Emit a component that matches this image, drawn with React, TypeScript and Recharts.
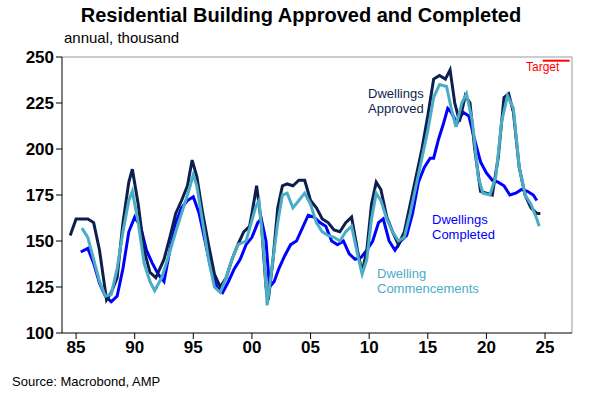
import React from 'react'
import { LineChart, Line, XAxis, YAxis, ReferenceLine } from 'recharts'

const approvedYears = [1984.5, 1985, 1986, 1986.5, 1987, 1987.6, 1988, 1988.5, 1989, 1989.5, 1989.8, 1990.3, 1990.8, 1991.3, 1991.8, 1992.5, 1993, 1993.5, 1994, 1994.5, 1994.9, 1995.3, 1995.8, 1996.3, 1996.8, 1997.3, 1997.8, 1998.3, 1998.8, 1999.3, 1999.8, 2000, 2000.4, 2000.8, 2001.2, 2001.4, 2001.8, 2002.2, 2002.6, 2003, 2003.5, 2004, 2004.5, 2005, 2005.5, 2006, 2006.5, 2007, 2007.5, 2008, 2008.5, 2009, 2009.4, 2009.8, 2010.2, 2010.6, 2011, 2011.5, 2012, 2012.5, 2013, 2013.5, 2014, 2014.5, 2015, 2015.5, 2016, 2016.5, 2016.9, 2017.3, 2017.7, 2018.2, 2018.6, 2019, 2019.5, 2020, 2020.5, 2021, 2021.5, 2021.9, 2022.3, 2022.8, 2023.3, 2023.8, 2024.3, 2024.6]
const approvedValues = [153, 162, 162, 160, 145, 118, 122, 130, 160, 182, 189, 170, 145, 133, 130, 140, 152, 165, 172, 180, 194, 185, 165, 148, 132, 125, 130, 140, 148, 155, 158, 165, 180, 160, 125, 118, 140, 168, 180, 181, 180, 183, 183, 172, 168, 162, 160, 156, 155, 160, 163, 145, 133, 145, 170, 182, 178, 163, 155, 148, 155, 170, 185, 200, 218, 238, 240, 238, 243, 225, 215, 229, 225, 200, 177, 176, 175, 195, 228, 230, 220, 190, 175, 168, 165, 165]

const commenceYears = [1985.5, 1986, 1986.5, 1987, 1987.5, 1988, 1988.5, 1989, 1989.5, 1989.8, 1990.3, 1990.8, 1991.3, 1991.7, 1992.3, 1992.8, 1993.5, 1994, 1994.5, 1995, 1995.3, 1995.8, 1996.3, 1996.8, 1997.3, 1997.8, 1998.3, 1998.8, 1999.5, 2000.3, 2000.6, 2001, 2001.3, 2001.7, 2002.2, 2002.6, 2003, 2003.5, 2004, 2004.5, 2005, 2005.5, 2006, 2006.5, 2007, 2007.5, 2008, 2008.5, 2009, 2009.4, 2009.8, 2010.2, 2010.6, 2011, 2011.5, 2012, 2012.5, 2013, 2013.5, 2014, 2014.5, 2015, 2015.5, 2016, 2016.6, 2017, 2017.4, 2017.9, 2018.3, 2018.8, 2019.3, 2019.7, 2020.3, 2020.8, 2021.3, 2021.8, 2022.3, 2022.8, 2023.3, 2023.8, 2024.3, 2024.5]
const commenceValues = [157, 152, 140, 128, 120, 121, 135, 155, 172, 177, 160, 138, 128, 123, 130, 140, 155, 165, 175, 186, 180, 160, 140, 125, 122, 130, 140, 148, 150, 168, 172, 145, 115, 135, 160, 175, 176, 168, 172, 176, 170, 160, 155, 153, 152, 150, 155, 158, 143, 132, 140, 162, 176, 172, 162, 155, 150, 152, 165, 180, 195, 210, 228, 235, 234, 222, 212, 225, 230, 215, 185, 176, 175, 185, 215, 229, 222, 190, 175, 170, 162, 158]

const completedYears = [1985.4, 1986, 1986.5, 1987, 1987.5, 1988, 1988.5, 1989, 1989.5, 1990, 1990.5, 1991, 1991.5, 1992, 1992.5, 1993, 1993.5, 1994, 1994.5, 1995, 1995.5, 1996, 1996.5, 1997, 1997.5, 1998, 1998.5, 1999, 1999.5, 2000, 2000.5, 2000.8, 2001.2, 2001.5, 2001.9, 2002.3, 2002.8, 2003.3, 2003.8, 2004.3, 2004.8, 2005.3, 2005.8, 2006.3, 2006.8, 2007.3, 2007.8, 2008.3, 2008.8, 2009.3, 2009.8, 2010.3, 2010.8, 2011.2, 2011.7, 2012.2, 2012.7, 2013.2, 2013.7, 2014.2, 2014.7, 2015.2, 2015.5, 2015.9, 2016.3, 2016.7, 2017, 2017.5, 2018, 2018.5, 2019, 2019.5, 2020, 2020.5, 2021, 2021.5, 2022, 2022.5, 2023, 2023.5, 2024, 2024.3]
const completedValues = [144, 146, 138, 127, 120, 117, 120, 135, 155, 163, 158, 145, 138, 132, 128, 145, 160, 168, 172, 174, 165, 150, 135, 125, 122, 128, 135, 140, 148, 152, 160, 162, 150, 125, 128, 135, 142, 148, 150, 157, 164, 163, 160, 158, 150, 148, 150, 143, 140, 141, 145, 150, 160, 162, 150, 145, 150, 153, 165, 182, 190, 195, 195, 205, 213, 222, 220, 214, 220, 218, 205, 193, 187, 183, 182, 180, 175, 176, 178, 177, 175, 172]

const xTicks = [1985, 1990, 1995, 2000, 2005, 2010, 2015, 2020, 2025]
const yTicks = [100, 125, 150, 175, 200, 225, 250]
const targetValue = 248

const toPoints = (xs: number[], ys: number[]) => xs.map((x, i) => ({ x, y: ys[i] }))

const font = 'Arial, "Liberation Sans", sans-serif'
const tickStyle = { fontFamily: font, fontSize: 17, fontWeight: 700, fill: '#000' }
const labelStyle = { position: 'absolute' as const, fontSize: 13, lineHeight: '15px' }

export default function App() {
  return (
    <div style={{ position: 'absolute', left: 0, top: 0, width: 602, height: 405, background: '#fff', fontFamily: font }}>
      <div style={{ position: 'absolute', left: 0, width: 602, top: 4, textAlign: 'center', fontSize: 20, fontWeight: 700 }}>
        Residential Building Approved and Completed
      </div>
      <div style={{ position: 'absolute', left: 64, top: 29, fontSize: 15 }}>annual, thousand</div>
      <LineChart width={602} height={405} margin={{ top: 57, right: 30, bottom: 42, left: 0 }}>
        <XAxis
          type="number"
          dataKey="x"
          domain={[1983.8, 2027.3]}
          ticks={xTicks}
          tickFormatter={(v: number) => String(v % 100).padStart(2, '0')}
          tick={tickStyle}
          height={30}
          stroke="#000"
          allowDataOverflow
        />
        <YAxis
          type="number"
          domain={[100, 250]}
          ticks={yTicks}
          tick={tickStyle}
          width={62}
          stroke="#000"
        />
        <ReferenceLine y={250} stroke="#999" />
        <ReferenceLine x={2027.3} stroke="#999" />
        <ReferenceLine
          segment={[{ x: 2024.8, y: targetValue }, { x: 2027.1, y: targetValue }]}
          stroke="#ff0000"
          strokeWidth={2}
        />
        <Line data={toPoints(completedYears, completedValues)} dataKey="y" stroke="#0000ff" strokeWidth={3} dot={false} isAnimationActive={false} />
        <Line data={toPoints(approvedYears, approvedValues)} dataKey="y" stroke="#0c1f4f" strokeWidth={3} dot={false} isAnimationActive={false} />
        <Line data={toPoints(commenceYears, commenceValues)} dataKey="y" stroke="#4bacc6" strokeWidth={3} dot={false} isAnimationActive={false} />
      </LineChart>
      <div style={{ position: 'absolute', left: 526, top: 60, fontSize: 12, color: '#ff0000' }}>Target</div>
      <div style={{ ...labelStyle, left: 368, top: 86, color: '#0c1f4f' }}>Dwellings<br />Approved</div>
      <div style={{ ...labelStyle, left: 432, top: 212, color: '#0000ff' }}>Dwellings<br />Completed</div>
      <div style={{ ...labelStyle, left: 377, top: 266, color: '#4bacc6' }}>Dwelling<br />Commencements</div>
      <div style={{ position: 'absolute', left: 12, top: 374, fontSize: 13 }}>Source: Macrobond, AMP</div>
    </div>
  )
}
